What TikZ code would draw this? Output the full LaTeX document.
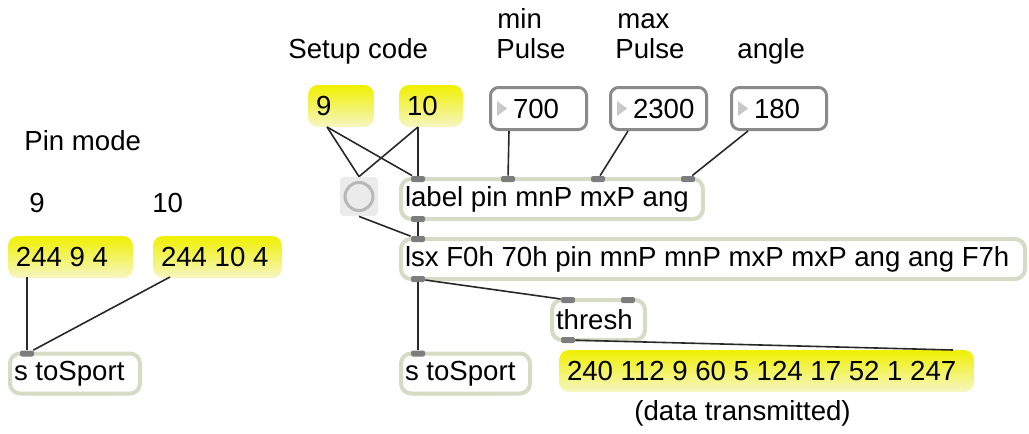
\documentclass[tikz,border=0pt]{standalone}
\usepackage{fontspec}
\setmainfont{Liberation Sans}
\definecolor{msgtop}{RGB}{240,240,0}
\definecolor{msgbot}{RGB}{246,246,196}
\definecolor{objline}{RGB}{212,220,198}
\definecolor{numline}{RGB}{138,138,138}
\definecolor{tri}{RGB}{200,200,200}
\definecolor{portc}{RGB}{125,125,125}
\definecolor{tglbg}{RGB}{235,235,235}
\definecolor{tglring}{RGB}{184,184,184}
\definecolor{wirec}{RGB}{40,40,40}
\begin{document}
\begin{tikzpicture}[x=0.5pt,y=-0.5pt,
  msg/.style={top color=msgtop,bottom color=msgbot,rounded corners=5pt,inner xsep=4pt,inner ysep=0pt,align=flush left,text width=#1,minimum height=21pt},
  obj/.style={draw=objline,line width=2pt,fill=white,rounded corners=5pt,inner xsep=2pt,inner ysep=0pt,align=flush left,text width=#1,minimum height=20pt},
  num/.style={draw=numline,line width=1.5pt,fill=white,rounded corners=4pt,inner xsep=4pt,inner ysep=0pt,align=flush left,text width=#1,minimum height=21pt,
    execute at begin node={\hspace*{7.25pt}},
    path picture={\fill[tri,sharp corners] ([xshift=3.25pt,yshift=3.75pt]path picture bounding box.west) -- ++(5pt,-3.75pt) -- ++(-5pt,-3.75pt) -- cycle;}},
  tgl/.style={fill=tglbg,rounded corners=2pt,minimum width=19pt,minimum height=19.5pt,inner sep=0pt,
    path picture={\draw[tglring,line width=1.5pt] (path picture bounding box.center) circle[radius=7pt];}},
  port/.style={fill=portc,inner sep=0pt,minimum width=7pt,minimum height=3pt,rounded corners=1pt},
  wire/.style={draw=wirec,line width=0.8pt},
  note/.style={inner sep=0pt,anchor=base west}]
\fontsize{13.8}{15}\selectfont
\useasboundingbox (0,0) rectangle (1029,434);

\node[note] (setup) at (288,58) {Setup code};
\node[note] (min) at (497,28) {min};
\node[note] (minp) at (496,58) {Pulse};
\node[note] (max) at (617,28) {max};
\node[note] (maxp) at (615,58) {Pulse};
\node[note] (ang) at (737,58) {angle};
\node[note] (pinmode) at (24,150) {Pin mode};
\node[note] (pm9) at (29,212) {9};
\node[note] (pm10) at (152,212) {10};
\node[note] (sent) at (634,420) {(data transmitted)};

\node[msg=25pt] (m9) at (341,106) {9};
\node[msg=24pt] (m10) at (431,106) {10};
\node[num=40pt] (n700) at (538.5,108.5) {700};
\node[num=40pt] (n2300) at (658.5,108.5) {2300};
\node[num=39.5pt] (n180) at (779,108.5) {180};
\node[tgl] (tg) at (359,196.5) {};
\node[obj=147pt] (lbl) at (552,199) {label pin mnP mxP ang};
\node[obj=308pt] (lsx) at (713,259) {lsx F0h 70h pin mnP mnP mxP mxP ang ang F7h};
\node[obj=42.5pt] (thr) at (598.5,320) {thresh};
\node[obj=60.5pt] (sto) at (465.5,373.5) {s toSport};
\node[msg=199.5pt] (dat) at (766.5,371) {240 112 9 60 5 124 17 52 1 247};
\node[msg=54.5pt] (p9) at (70.5,257) {244 9 4};
\node[msg=56.5pt] (p10) at (217.5,257) {244 10 4};
\node[obj=61pt] (stp) at (75,373.5) {s toSport};

\node[port] (lbli1) at (418,179) {};
\node[port] (lbli2) at (508,179) {};
\node[port] (lbli3) at (598,179) {};
\node[port] (lbli4) at (688,179) {};
\node[port] (lblo) at (418,219) {};
\node[port] (lsxi) at (418,239) {};
\node[port] (lsxo) at (418,279) {};
\node[port] (thri1) at (568,300) {};
\node[port] (thri2) at (628,300) {};
\node[port] (thro) at (568,340) {};
\node[port] (stoi) at (418,353.5) {};
\node[port] (stpi) at (27,353.5) {};

\coordinate (m9o) at (327,127);
\coordinate (m10o) at (418,127);
\coordinate (n700o) at (509,131);
\coordinate (n2300o) at (628,131);
\coordinate (n180o) at (748,131);
\coordinate (p9o) at (27,277);
\coordinate (p10o) at (170,277);
\coordinate (datr) at (953,350);

\path[wire] (m9o) -- (tg.north);
\path[wire] (m9o) -- (lbli1);
\path[wire] (m10o) -- (tg.north);
\path[wire] (m10o) -- (lbli1);
\path[wire] (n700o) -- (lbli2);
\path[wire] (n2300o) -- (lbli3);
\path[wire] (n180o) -- (lbli4);
\path[wire] (tg.south) -- (lsxi);
\path[wire] (lblo) -- (lsxi);
\path[wire] (lsxo) -- (stoi);
\path[wire] (lsxo) -- (thri1);
\path[wire] (thro) -- (datr);
\path[wire] (p9o) -- (stpi);
\path[wire] (p10o) -- (stpi);
\end{tikzpicture}
\end{document}
